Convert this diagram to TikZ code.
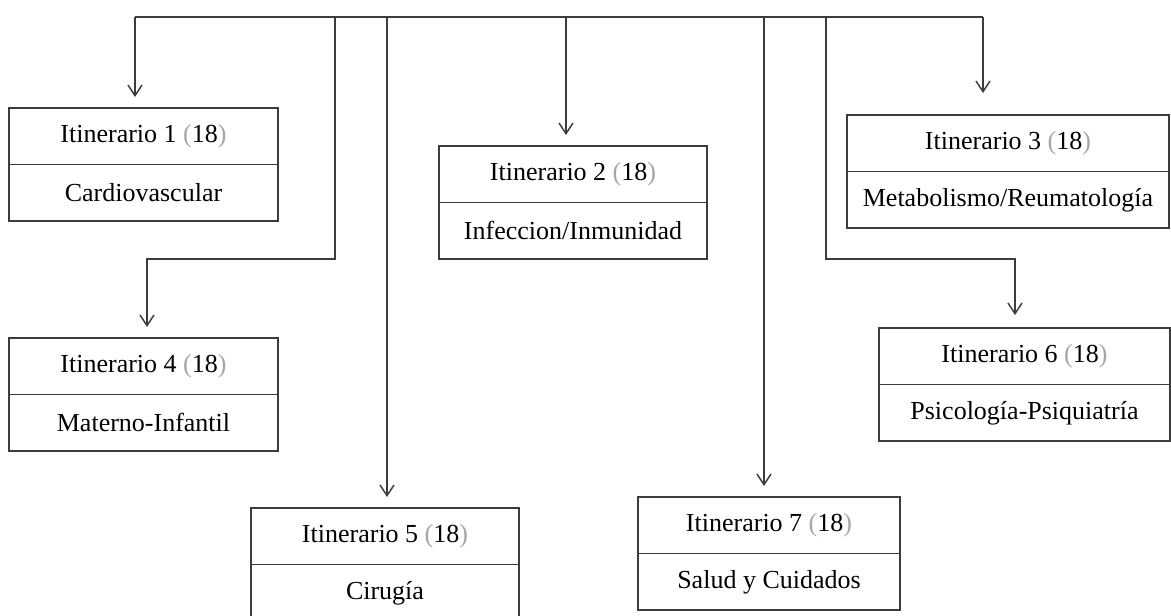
\documentclass[tikz,border=0pt]{standalone}
\usepackage{fontspec}
\setmainfont{Liberation Serif}
\usetikzlibrary{arrows.meta,positioning}
\definecolor{linegray}{HTML}{3C3C3C}
\newcommand{\plazas}[1]{\textcolor{black!35}{(}#1\textcolor{black!35}{)}}
\tikzset{
  itin/.style={draw=linegray, line width=1.1pt, outer sep=0pt, inner sep=0pt,
    minimum height=42.4pt, font=\fontsize{19.5}{23}\selectfont},
  wd/.style={minimum width=#1*0.75pt},
  bus/.style={draw=linegray, line width=1.1pt},
  arr/.style={bus, -{Straight Barb[length=8pt,width=10.5pt]}, shorten >=8.25pt}
}
\begin{document}
\begin{tikzpicture}[x=0.75pt, y=-0.75pt]
\clip (0,0) rectangle (1171,615);
%
\node[itin, wd=269, anchor=north west] (t1) at (9,108) {Itinerario 1 \plazas{18}};
\node[itin, wd=269, below=0pt of t1] (b1) {Cardiovascular};
\node[itin, wd=268, anchor=north west] (t2) at (439,146) {Itinerario 2 \plazas{18}};
\node[itin, wd=268, below=0pt of t2] (b2) {Infeccion/Inmunidad};
\node[itin, wd=322, anchor=north west] (t3) at (847,115) {Itinerario 3 \plazas{18}};
\node[itin, wd=322, below=0pt of t3] (b3) {Metabolismo/Reumatología};
\node[itin, wd=269, anchor=north west] (t4) at (9,338) {Itinerario 4 \plazas{18}};
\node[itin, wd=269, below=0pt of t4] (b4) {Materno-Infantil};
\node[itin, wd=268, anchor=north west] (t5) at (251,508) {Itinerario 5 \plazas{18}};
\node[itin, wd=268, below=0pt of t5] (b5) {Cirugía};
\node[itin, wd=291, anchor=north west] (t6) at (879,328) {Itinerario 6 \plazas{18}};
\node[itin, wd=291, below=0pt of t6] (b6) {Psicología-Psiquiatría};
\node[itin, wd=262, anchor=north west] (t7) at (638,497) {Itinerario 7 \plazas{18}};
\node[itin, wd=262, below=0pt of t7] (b7) {Salud y Cuidados};
%
\coordinate (d1) at (135,17);
\coordinate (d4) at (335,17);
\coordinate (d5) at (387,17);
\coordinate (d2) at (566,17);
\coordinate (d7) at (764,17);
\coordinate (d6) at (826,17);
\coordinate (d3) at (983,17);
\coordinate (k4) at (147,259);
\coordinate (k6) at (1015,259);
%
\draw[bus] (d1) -- (d3);
\draw[arr] (d1) -- (d1 |- t1.north);
\draw[arr] (d2) -- (d2 |- t2.north);
\draw[arr, shorten >=16.5pt] (d3) -- (d3 |- t3.north);
\draw[arr] (d4) |- (k4) -- (k4 |- t4.north);
\draw[arr] (d5) -- (d5 |- t5.north);
\draw[arr, shorten >=9.75pt] (d6) |- (k6) -- (k6 |- t6.north);
\draw[arr] (d7) -- (d7 |- t7.north);
%%%%%%%%%%%%%%%%%%%%%%%%%%%%%%%
\end{tikzpicture}
\end{document}
